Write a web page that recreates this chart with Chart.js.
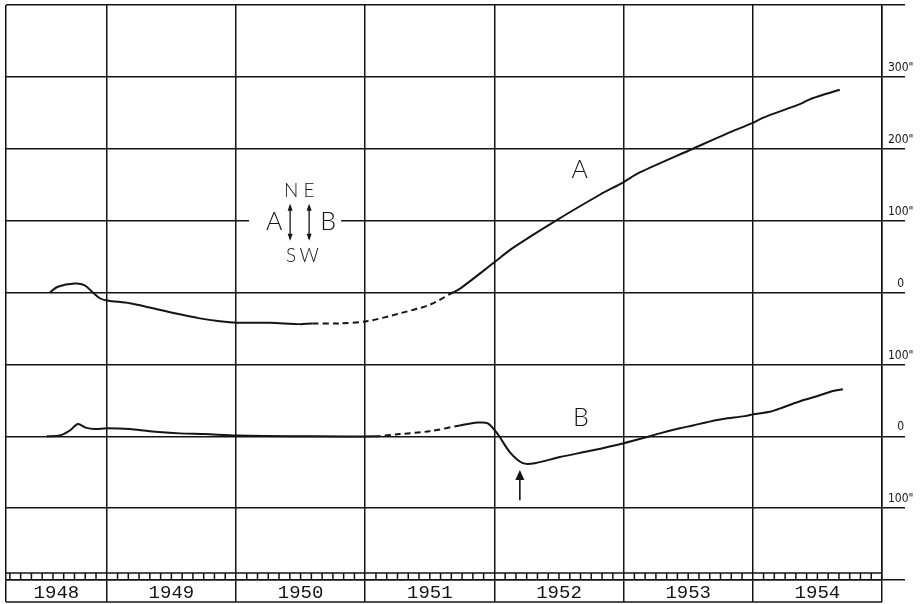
<!DOCTYPE html>
<html>
<head>
<meta charset="utf-8">
<script src="https://cdn.jsdelivr.net/npm/chart.js@4/dist/chart.umd.min.js"></script>
<style>
  html, body { margin: 0; padding: 0; background: #fff; }
  #wrap { width: 924px; height: 604px; position: relative; }
</style>
</head>
<body>
<div id="wrap"><canvas id="chart"></canvas></div>
<script>
// Time axis: year boundaries and their labels
const yearBounds = [1948.22, 1949, 1950, 1951, 1952, 1953, 1954, 1955];
const yearLabels = ['1948', '1949', '1950', '1951', '1952', '1953', '1954'];

// Right-hand scale (seconds of arc). B is drawn with its zero 200" lower.
const yTickValues = [300, 200, 100, 0, -100, -200, -300];
const yTickLabels = ['300"', '200"', '100"', '0', '100"', '0', '100"'];
const B_ZERO = -200;

// Curve A
const aYears = [1948.559, 1948.621, 1948.752, 1948.830, 1948.892, 1948.946, 1949.0, 1949.178, 1949.333,
  1949.526, 1949.720, 1949.875, 1950.006, 1950.262, 1950.494, 1950.594, 1950.803, 1951.012, 1951.268,
  1951.5, 1951.678, 1951.732, 1952.0, 1952.135, 1952.467, 1952.816, 1952.994, 1953.125, 1953.536,
  1953.799, 1954.0, 1954.077, 1954.364, 1954.457, 1954.673];
const aValues = [0, 8, 12.5, 10, 0, -8, -11, -15, -21,
  -29, -36, -40, -42, -42, -44, -43, -43, -40, -29,
  -17, 0, 5, 42, 61, 99, 136, 153, 167, 200,
  221, 236, 243, 262, 270, 282];
const aDash = [1950.594, 1951.678];

// Curve B
const bYears = [1948.536, 1948.636, 1948.714, 1948.776, 1948.837, 1948.907, 1949.0, 1949.178, 1949.333,
  1949.565, 1949.758, 1950.006, 1950.494, 1951.074, 1951.268, 1951.5, 1951.732, 1951.871, 1951.949,
  1952.026, 1952.119, 1952.220, 1952.313, 1952.506, 1952.762, 1952.994, 1953.203, 1953.280, 1953.435,
  1953.536, 1953.644, 1953.768, 1953.938, 1954.015, 1954.132, 1954.232, 1954.387, 1954.519, 1954.619,
  1954.697];
const bValues = [0, 1, 8, 17, 12, 10, 11, 10, 7,
  4, 3, 1, 0, 0, 3, 7, 15, 19, 18,
  3, -22, -37.5, -37.5, -29, -19.5, -10, 0, 4, 11,
  15, 19.5, 24, 28, 31, 34, 40, 50, 57, 63,
  65.5];
const bDash = [1951.074, 1951.732];

const INK = '#141414';

// x ticks: boundaries (grid lines) interleaved with midpoints (labels)
const xTicks = [];
yearBounds.forEach((b, i) => {
  xTicks.push(b);
  if (i < yearBounds.length - 1) xTicks.push((b + yearBounds[i + 1]) / 2);
});

function dashed(range) {
  return ctx => (ctx.p0.parsed.x >= range[0] - 1e-6 && ctx.p1.parsed.x <= range[1] + 1e-6) ? [6, 4] : undefined;
}

// Month strip, bottom rule, labels and compass key
const decorations = {
  id: 'decorations',
  afterDatasetsDraw(chart) {
    const { ctx, chartArea } = chart;
    const xs = chart.scales.x, ys = chart.scales.y;
    const px = v => xs.getPixelForValue(v);
    const py = v => ys.getPixelForValue(v);
    ctx.save();
    ctx.strokeStyle = INK;
    ctx.fillStyle = INK;

    // month boxes along the bottom of the grid
    const stripTop = chartArea.bottom - 7;
    ctx.lineWidth = 1.5;
    ctx.beginPath();
    ctx.moveTo(chartArea.left, stripTop);
    ctx.lineTo(chartArea.right, stripTop);
    for (let y = 1948; y < 1955; y++) {
      for (let m = 1; m < 12; m++) {
        const v = y + m / 12;
        if (v <= yearBounds[0]) continue;
        ctx.moveTo(px(v), stripTop);
        ctx.lineTo(px(v), chartArea.bottom);
      }
    }
    ctx.stroke();

    // bottom rule under year labels
    ctx.lineWidth = 1.5;
    ctx.beginPath();
    ctx.moveTo(chartArea.left, chartArea.bottom + 22);
    ctx.lineTo(chartArea.right, chartArea.bottom + 22);
    ctx.stroke();

    // curve labels
    ctx.font = '300 25px Lato, "Open Sans", sans-serif';
    ctx.textAlign = 'center';
    ctx.textBaseline = 'middle';
    ctx.fillText('A', px(1952.661), py(171));
    ctx.fillText('B', px(1952.669), py(B_ZERO + 26));

    // arrow under B's minimum
    const ax = px(1952.197), aTop = py(B_ZERO - 47), aBot = py(B_ZERO - 89);
    ctx.lineWidth = 1.6;
    ctx.beginPath();
    ctx.moveTo(ax, aBot);
    ctx.lineTo(ax, aTop + 2);
    ctx.stroke();
    ctx.beginPath();
    ctx.moveTo(ax, aTop);
    ctx.lineTo(ax - 4.5, aTop + 10);
    ctx.lineTo(ax + 4.5, aTop + 10);
    ctx.closePath();
    ctx.fill();

    // compass key, anchored at (1950.45, 100")
    const kx = px(1950.45), ky = py(100);
    ctx.fillStyle = '#fff';
    ctx.fillRect(kx - 45, ky - 5, 92, 10);
    ctx.fillStyle = INK;
    ctx.font = '300 25px Lato, "Open Sans", sans-serif';
    ctx.fillText('A', kx - 20, ky + 1);
    ctx.fillText('B', kx + 34, ky + 1);
    ctx.font = '300 19px Lato, "Open Sans", sans-serif';
    ctx.fillText('N', kx - 3, ky - 30);
    ctx.fillText('E', kx + 15, ky - 30);
    ctx.fillText('S', kx - 3, ky + 35);
    ctx.fillText('W', kx + 15, ky + 35);
    ctx.lineWidth = 1.3;
    [kx - 4, kx + 15].forEach(x => {
      const t = ky - 17, b = ky + 20;
      ctx.beginPath();
      ctx.moveTo(x, t + 2);
      ctx.lineTo(x, b - 2);
      ctx.stroke();
      ctx.beginPath();
      ctx.moveTo(x, t); ctx.lineTo(x - 2.5, t + 7); ctx.lineTo(x + 2.5, t + 7); ctx.closePath();
      ctx.moveTo(x, b); ctx.lineTo(x - 2.5, b - 7); ctx.lineTo(x + 2.5, b - 7); ctx.closePath();
      ctx.fill();
    });
    ctx.restore();
  }
};

new Chart(document.getElementById('chart'), {
  type: 'line',
  data: {
    datasets: [
      {
        label: 'A',
        data: aYears.map((x, i) => ({ x: x, y: aValues[i] })),
        segment: { borderDash: dashed(aDash) }
      },
      {
        label: 'B',
        data: bYears.map((x, i) => ({ x: x, y: B_ZERO + bValues[i] })),
        segment: { borderDash: dashed(bDash) }
      }
    ]
  },
  options: {
    responsive: true,
    maintainAspectRatio: false,
    animation: false,
    layout: { padding: { left: 6, top: 5, right: 0, bottom: 0 } },
    elements: {
      line: { borderColor: INK, borderWidth: 2, tension: 0.3, fill: false },
      point: { radius: 0, hoverRadius: 0 }
    },
    plugins: { legend: { display: false }, tooltip: { enabled: false } },
    scales: {
      x: {
        type: 'linear',
        min: yearBounds[0],
        max: yearBounds[yearBounds.length - 1],
        afterBuildTicks: scale => { scale.ticks = xTicks.map(v => ({ value: v })); },
        afterFit: scale => { scale.height = 24; },
        border: { display: true, color: INK, width: 1.5 },
        grid: {
          color: ctx => (ctx.index % 2 === 0 ? INK : 'rgba(0,0,0,0)'),
          lineWidth: 1.5,
          drawTicks: true,
          tickLength: 22
        },
        ticks: {
          autoSkip: false,
          maxRotation: 0,
          padding: -20,
          color: INK,
          font: { family: '"Liberation Mono", "DejaVu Sans Mono", monospace', size: 19 },
          callback: (v, i) => (i % 2 === 1 ? yearLabels[(i - 1) / 2] : '')
        }
      },
      y: {
        position: 'right',
        min: -400,
        max: 400,
        afterFit: scale => { scale.width = 42; },
        border: { display: true, color: INK, width: 1.5 },
        grid: { color: INK, lineWidth: 1.5, drawTicks: true, tickLength: 23 },
        ticks: {
          stepSize: 100,
          padding: -17,
          labelOffset: -9,
          crossAlign: 'center',
          color: INK,
          font: { family: '"DejaVu Sans Condensed", "Liberation Sans Narrow", "Liberation Sans", sans-serif', size: 12 },
          callback: v => {
            const i = yTickValues.indexOf(v);
            return i >= 0 ? yTickLabels[i] : '';
          }
        }
      }
    }
  },
  plugins: [decorations]
});
</script>
</body>
</html>
